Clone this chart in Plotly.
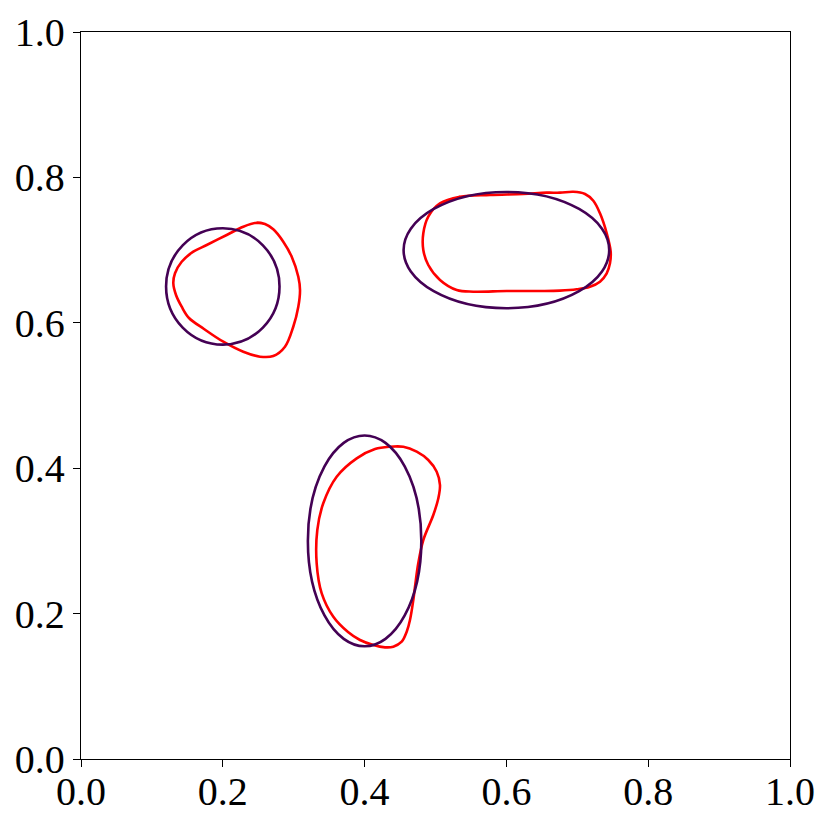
import plotly.graph_objects as go

# Reference ellipses (purple): centers and radii
ell_cx = [0.20, 0.60, 0.40]
ell_cy = [0.65, 0.70, 0.30]
ell_rx = [0.080, 0.145, 0.080]
ell_ry = [0.080, 0.080, 0.145]

# Red contours
red1_x = [0.2478, 0.2595, 0.2712, 0.2853, 0.2972, 0.3065, 0.3089, 0.3065, 0.2994, 0.2877,
          0.2712, 0.2525, 0.2289, 0.2007, 0.1735, 0.1523, 0.1420, 0.1340, 0.1302, 0.1326,
          0.1420, 0.1584, 0.1773, 0.2055, 0.2289]
red1_y = [0.7377, 0.7359, 0.7286, 0.7116, 0.6909, 0.6634, 0.6451, 0.6221, 0.5946, 0.5671,
          0.5543, 0.5534, 0.5602, 0.5740, 0.5915, 0.6066, 0.6221, 0.6382, 0.6543, 0.6681,
          0.6840, 0.6978, 0.7070, 0.7208, 0.7322]

red2_x = [0.5063, 0.5346, 0.5769, 0.6238, 0.6568, 0.6756, 0.6944, 0.7109, 0.7226, 0.7320,
          0.7415, 0.7471, 0.7461, 0.7415, 0.7320, 0.7179, 0.6992, 0.6756, 0.6474, 0.6004,
          0.5533, 0.5299, 0.5063, 0.4898, 0.4828, 0.4828, 0.4898]
red2_y = [0.7644, 0.7735, 0.7758, 0.7772, 0.7790, 0.7790, 0.7803, 0.7772, 0.7679, 0.7506,
          0.7231, 0.6978, 0.6818, 0.6681, 0.6566, 0.6497, 0.6461, 0.6442, 0.6437, 0.6437,
          0.6428, 0.6451, 0.6589, 0.6795, 0.7001, 0.7231, 0.7459]

red3_x = [0.4358, 0.4546, 0.4735, 0.4898, 0.5017, 0.5063, 0.5040, 0.4969, 0.4828, 0.4757,
          0.4711, 0.4687, 0.4640, 0.4594, 0.4523, 0.4405, 0.4288, 0.4123, 0.3935, 0.3766,
          0.3559, 0.3395, 0.3324, 0.3333, 0.3417, 0.3606, 0.3889, 0.4147]
red3_y = [0.4296, 0.4296, 0.4227, 0.4113, 0.3952, 0.3769, 0.3586, 0.3356, 0.3012, 0.2692,
          0.2370, 0.2187, 0.1912, 0.1751, 0.1613, 0.1545, 0.1536, 0.1568, 0.1637, 0.1747,
          0.1957, 0.2279, 0.2692, 0.3150, 0.3517, 0.3883, 0.4136, 0.4264]

tick_vals = [0.0, 0.2, 0.4, 0.6, 0.8, 1.0]
tick_text = ["0.0", "0.2", "0.4", "0.6", "0.8", "1.0"]

PURPLE = "#440154"
RED = "#ff0000"

fig = go.Figure()

for cx, cy, rx, ry in zip(ell_cx, ell_cy, ell_rx, ell_ry):
    fig.add_shape(type="circle", xref="x", yref="y",
                  x0=cx - rx, x1=cx + rx, y0=cy - ry, y1=cy + ry,
                  line=dict(color=PURPLE, width=2.6))

for xs, ys in [(red1_x, red1_y), (red2_x, red2_y), (red3_x, red3_y)]:
    fig.add_trace(go.Scatter(x=xs + xs[:2], y=ys + ys[:2], mode="lines",
                             line=dict(color=RED, width=2.6, shape="spline", smoothing=1.0),
                             showlegend=False, hoverinfo="skip"))

axis_common = dict(range=[0, 1], tickvals=tick_vals, ticktext=tick_text,
                   showgrid=False, zeroline=False, showline=True, linecolor="black",
                   linewidth=1.3, mirror=True, ticks="outside", ticklen=7,
                   tickwidth=1.3, tickcolor="black", automargin=False,
                   tickfont=dict(family="Liberation Serif", size=40, color="black"))

fig.update_xaxes(**axis_common, ticklabelstandoff=-10)
fig.update_yaxes(**axis_common)

fig.update_layout(width=823, height=823,
                  margin=dict(l=73, r=41, t=24, b=72),
                  plot_bgcolor="white", paper_bgcolor="white",
                  showlegend=False)

fig.write_html("out.html")
